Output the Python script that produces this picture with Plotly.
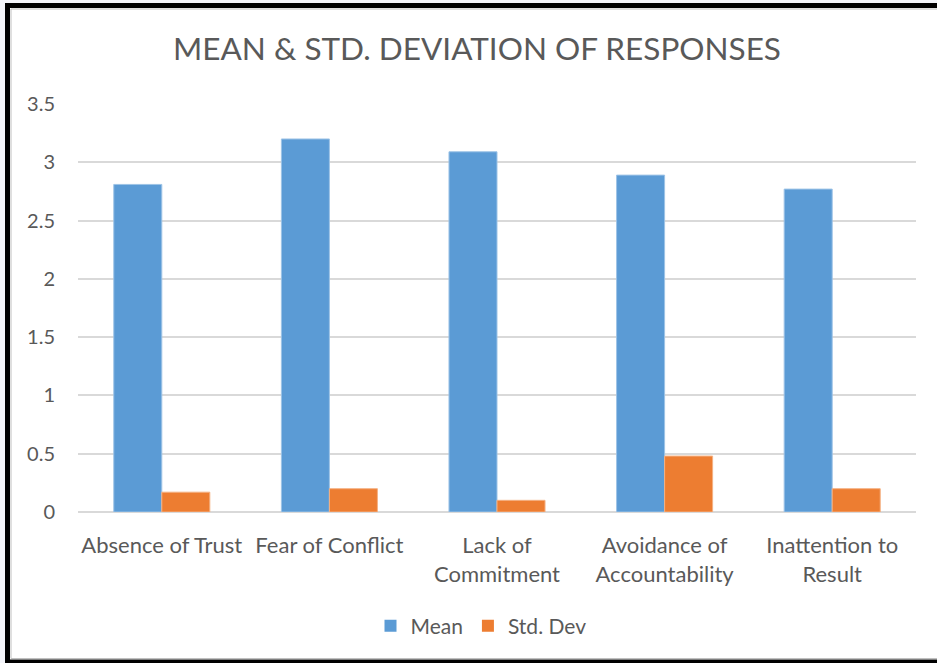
import plotly.graph_objects as go

categories = ["Absence of Trust", "Fear of Conflict", "Lack of<br>Commitment",
              "Avoidance of<br>Accountability", "Inattention to<br>Result"]
mean_values = [2.81, 3.20, 3.09, 2.89, 2.77]
std_values = [0.17, 0.20, 0.10, 0.48, 0.20]
y_ticks = [0, 0.5, 1, 1.5, 2, 2.5, 3, 3.5]
y_tick_labels = ["0", "0.5", "1", "1.5", "2", "2.5", "3", "3.5"]
series_names = ["Mean", "Std. Dev"]
series_colors = ["#5B9BD5", "#ED7D31"]
series_edges = ["#9DC3E6", "#F4B183"]

W, H = 937, 663
L, R, T, B = 78, 21, 104, 151
pw, ph = W - L - R, H - T - B

def px(x):
    return (x - L) / pw

def py(y):
    return (H - B - y) / ph

font = "Lato, 'Open Sans', sans-serif"
txt = "#595959"

fig = go.Figure()
for name, vals, col, edge in zip(series_names, [mean_values, std_values], series_colors, series_edges):
    fig.add_trace(go.Bar(name=name, x=categories, y=vals, showlegend=False,
                         marker=dict(color=col, line=dict(color=edge, width=1))))
for name, col in zip(series_names, series_colors):
    fig.add_trace(go.Scatter(name=name, x=[None], y=[None], mode="markers",
                             marker=dict(symbol="square", size=15, color=col),
                             showlegend=True))

fig.update_layout(
    width=W, height=H,
    margin=dict(l=L, r=R, t=T, b=B),
    paper_bgcolor="#F4F5FA",
    plot_bgcolor="white",
    barmode="group",
    bargap=0.427,
    bargroupgap=0,
    font=dict(family=font, color=txt, size=20),
    title=dict(text="MEAN &amp; STD. DEVIATION OF RESPONSES", x=477 / W, xref="container",
               xanchor="center", y=1 - 49 / H, yanchor="middle",
               font=dict(family=font, size=31.5, color=txt)),
    showlegend=True,
    legend=dict(orientation="h", x=px(481), xanchor="center", y=py(626), yanchor="middle",
                font=dict(family=font, size=21, color=txt), bgcolor="rgba(0,0,0,0)",
                itemsizing="constant", traceorder="normal", itemwidth=30),
    xaxis=dict(showgrid=False, showline=False, ticks="", tickfont=dict(size=22, color=txt),
               ticklabelstandoff=18, fixedrange=True),
    yaxis=dict(range=[0, 3.5], tickvals=y_ticks, ticktext=y_tick_labels,
               showgrid=True, gridcolor="#D9D9D9", gridwidth=2,
               zeroline=True, zerolinecolor="#D9D9D9", zerolinewidth=2,
               showline=False, ticks="", ticklabelstandoff=22,
               tickfont=dict(size=20, color=txt), fixedrange=True),
    shapes=[
        dict(type="rect", xref="paper", yref="paper", layer="below",
             x0=px(7.5), x1=px(950), y0=py(662), y1=py(5.5),
             line=dict(color="black", width=5), fillcolor="white"),
        dict(type="rect", xref="paper", yref="paper", layer="below",
             x0=px(11), x1=px(950), y0=py(658.5), y1=py(9),
             line=dict(color="#BFBFBF", width=1), fillcolor="rgba(0,0,0,0)"),
    ],
)

fig.write_html("out.html", config={"displayModeBar": False},
               post_script="document.body.style.margin='0px';")
